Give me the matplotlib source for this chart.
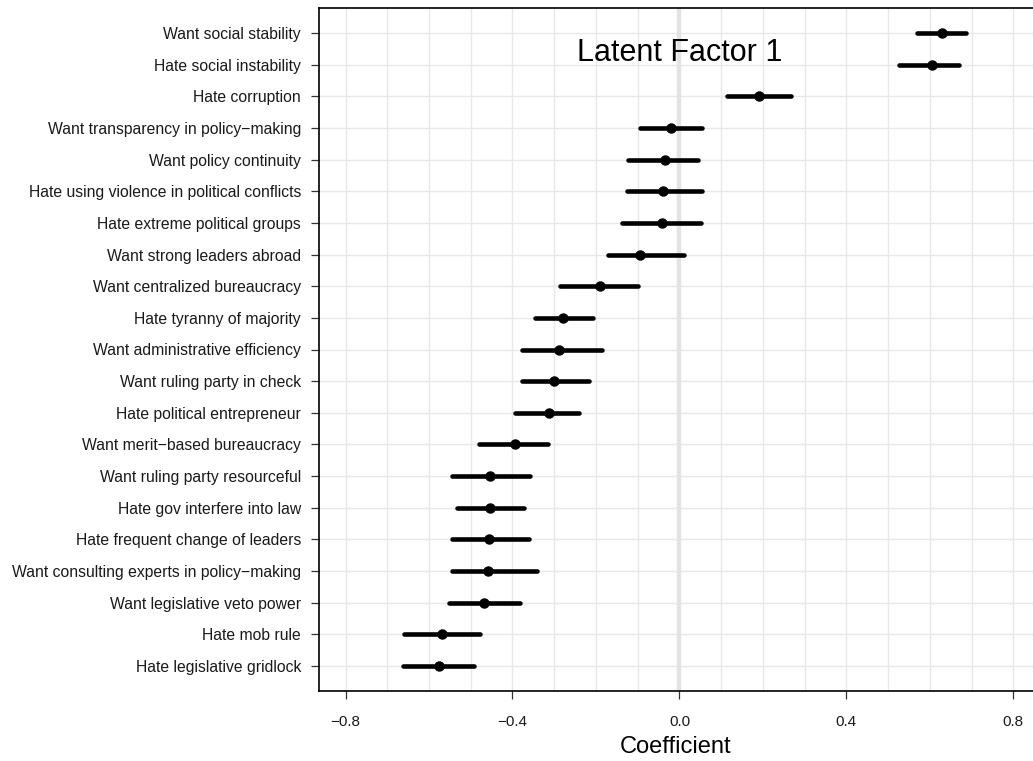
import matplotlib
matplotlib.use("Agg")
import matplotlib.pyplot as plt
import numpy as np

plt.rcParams['font.family'] = ['Liberation Sans', 'DejaVu Sans']

labels = [
    "Want social stability",
    "Hate social instability",
    "Hate corruption",
    "Want transparency in policy\u2212making",
    "Want policy continuity",
    "Hate using violence in political conflicts",
    "Hate extreme political groups",
    "Want strong leaders abroad",
    "Want centralized bureaucracy",
    "Hate tyranny of majority",
    "Want administrative efficiency",
    "Want ruling party in check",
    "Hate political entrepreneur",
    "Want merit\u2212based bureaucracy",
    "Want ruling party resourceful",
    "Hate gov interfere into law",
    "Hate frequent change of leaders",
    "Want consulting experts in policy\u2212making",
    "Want legislative veto power",
    "Hate mob rule",
    "Hate legislative gridlock",
]
coef = [0.628, 0.606, 0.190, -0.020, -0.035, -0.040, -0.041, -0.095, -0.191,
        -0.280, -0.289, -0.301, -0.313, -0.394, -0.454, -0.455, -0.456, -0.458,
        -0.468, -0.570, -0.575]
lower = [0.570, 0.527, 0.115, -0.095, -0.123, -0.125, -0.138, -0.171, -0.286,
         -0.347, -0.376, -0.376, -0.394, -0.479, -0.545, -0.533, -0.546, -0.546,
         -0.551, -0.660, -0.662]
upper = [0.686, 0.669, 0.268, 0.055, 0.045, 0.055, 0.051, 0.012, -0.100,
         -0.206, -0.185, -0.216, -0.240, -0.316, -0.358, -0.372, -0.360, -0.342,
         -0.381, -0.477, -0.493]
xticks = [-0.8, -0.4, 0.0, 0.4, 0.8]
xtick_labels = ["\u22120.8", "\u22120.4", "0.0", "0.4", "0.8"]

fig = plt.figure(figsize=(10.33, 7.61), dpi=100)
ax = fig.add_axes([319/1033, 1 - 691/761, 1 - 319/1033, (691 - 8)/761])

n = len(labels)
ypos = np.arange(n, 0, -1)

# grid
for gx in np.arange(-0.8, 0.81, 0.1):
    ax.axvline(gx, color='#e8e8e8', lw=1.0, zorder=0)
for gy in ypos:
    ax.axhline(gy, color='#e8e8e8', lw=1.0, zorder=0)
ax.axvline(0, color='#e3e3e3', lw=3.2, zorder=1)

ax.hlines(ypos, lower, upper, color='black', lw=3.3, zorder=3, capstyle='round')
ax.plot(coef, ypos, 'o', color='black', ms=6.5, zorder=4)

ax.set_xlim(-0.8635, 0.847)
ax.set_ylim(0.21, n + 0.79)
ax.set_yticks(ypos)
ax.set_yticklabels(labels, fontsize=11.3, color='#1a1a1a')
ax.set_xticks(xticks)
ax.set_xticklabels(xtick_labels, fontsize=11, color='#1a1a1a')
ax.tick_params(axis='both', length=6, width=0.9, color='#333333')
ax.tick_params(axis='y', pad=7)
ax.tick_params(axis='x', pad=11)
ax.set_xlabel("Coefficient", fontsize=17, labelpad=5)

for side in ['left', 'bottom', 'top']:
    ax.spines[side].set_linewidth(1.2)
    ax.spines[side].set_color('black')
ax.spines['right'].set_visible(False)

ax.text(0.0, 20.37, "Latent Factor 1", fontsize=22, ha='center', va='center', zorder=5)

fig.savefig("out.png", dpi=100)
